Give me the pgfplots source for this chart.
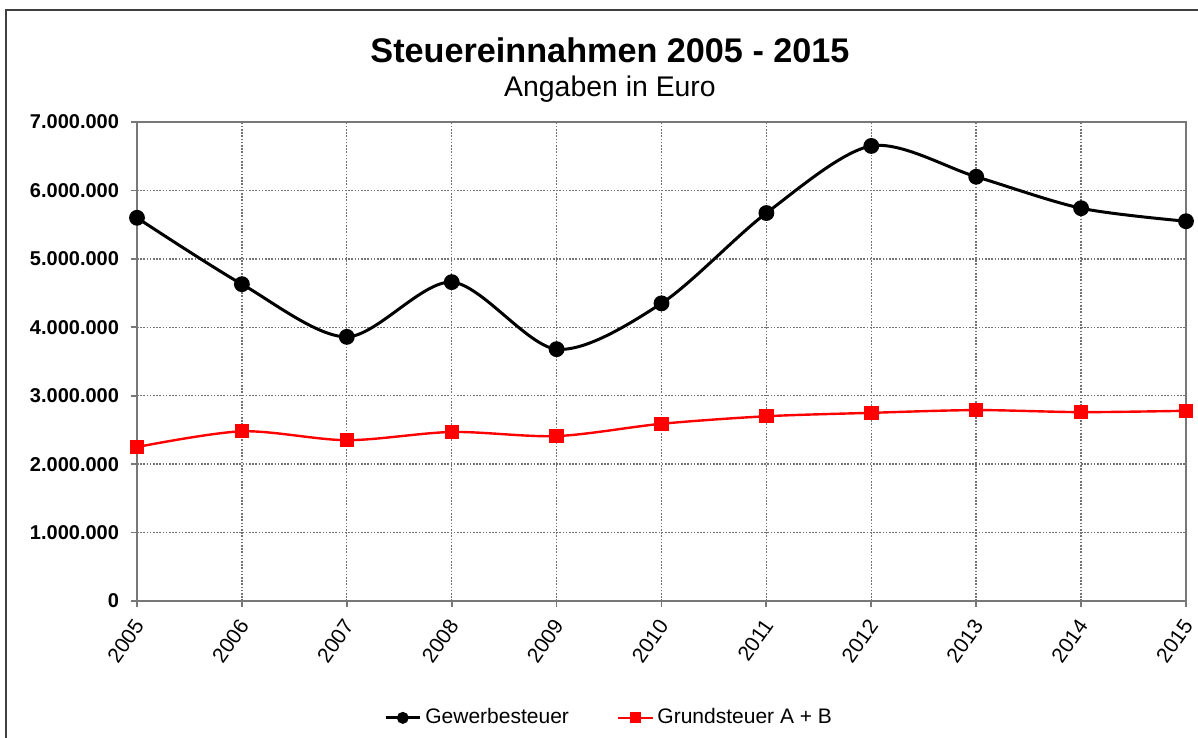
\documentclass[border=0pt]{standalone}
\usepackage{fontspec}
\setmainfont{Liberation Sans}
\usepackage{pgfplots}
\pgfplotsset{compat=1.18}

\definecolor{gridgray}{RGB}{115,115,115}
\definecolor{axgray}{RGB}{120,120,120}
\definecolor{xlred}{RGB}{255,0,0}

\begin{document}
\begin{tikzpicture}
% page = 1198 x 738 px, 1 px = 0.5 pt
\useasboundingbox (0,0) rectangle (599pt,369pt);
\draw[gray!50!black, line width=0.6pt] (3pt,0) -- (3pt,364pt) -- (599pt,364pt);

\begin{axis}[
  at={(68.5pt,68.5pt)}, anchor=south west,
  scale only axis, width=524.5pt, height=239.5pt,
  xmin=2005, xmax=2015, ymin=0, ymax=7000000,
  xtick={2005,...,2015},
  ytick={0,1000000,...,7000000},
  scaled y ticks=false,
  /pgf/number format/.cd, fixed, 1000 sep={}, assume math mode=true,
  /pgfplots/.cd,
  yticklabel style={/pgf/number format/1000 sep={.}, xshift=-2.5pt,
    font=\fontsize{10}{12}\selectfont\bfseries},
  xticklabel style={xshift=3pt, yshift=-4.5pt, rotate=55, anchor=east,
    font=\fontsize{10.5}{12}\selectfont},
  grid=major,
  grid style={gridgray, line width=0.7pt, dash pattern=on 0.8pt off 0.8pt},
  axis line style={axgray, line width=0.9pt},
  tick style={axgray, line width=0.9pt},
  tick align=outside, major tick length=3pt,
  xtick pos=left, ytick pos=left,
  legend columns=2,
  legend style={at={(0.451,-0.244)}, anchor=center, draw=none,
    font=\fontsize{10.5}{12}\selectfont, /tikz/every even column/.append style={column sep=22pt}},
  legend image post style={mark size=2.2pt},
]
\addplot[smooth, black, line width=1.5pt, mark=*, mark size=3.2pt] coordinates {
  (2005,5600000) (2006,4630000) (2007,3860000) (2008,4660000)
  (2009,3680000) (2010,4350000) (2011,5670000) (2012,6650000)
  (2013,6200000) (2014,5740000) (2015,5550000)
};
\addlegendentry{Gewerbesteuer}
\addplot[smooth, xlred, line width=1.2pt, mark=square*, mark size=3pt] coordinates {
  (2005,2250000) (2006,2480000) (2007,2350000) (2008,2470000)
  (2009,2410000) (2010,2590000) (2011,2700000) (2012,2750000)
  (2013,2790000) (2014,2760000) (2015,2780000)
};
\addlegendentry{Grundsteuer A + B}
\end{axis}

\node[anchor=base, font=\fontsize{17.1}{20}\selectfont\bfseries] at (305pt,337.5pt) {Steuereinnahmen 2005 - 2015};
\node[anchor=base, font=\fontsize{14.2}{17}\selectfont] at (305pt,320.5pt) {Angaben in Euro};
\end{tikzpicture}
\end{document}
